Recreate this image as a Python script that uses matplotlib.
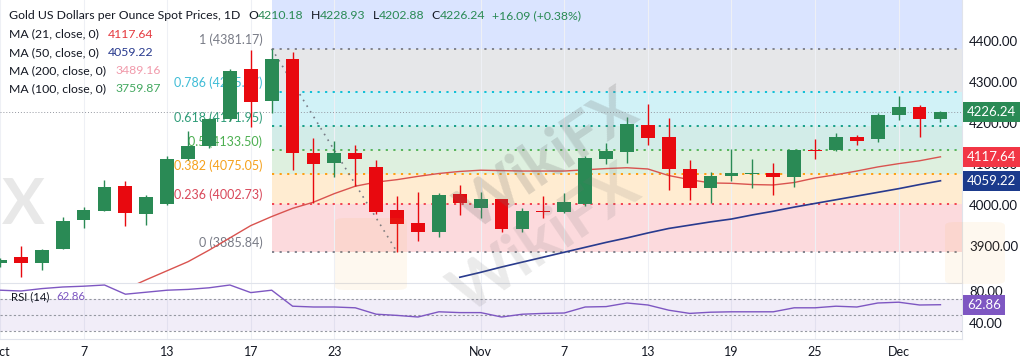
import matplotlib
matplotlib.use('Agg')
import matplotlib.pyplot as plt
import matplotlib.transforms as mtransforms
from matplotlib.patches import FancyBboxPatch

plt.rcParams['font.family'] = ['Lato', 'DejaVu Sans']

# daily candles, Oct 1 .. Dec 3
opens = [3858, 3873, 3859, 3893, 3963, 3985, 4046, 3978, 4002, 4112,
         4144, 4210, 4332, 4254, 4356, 4127, 4102, 4127, 4093, 3988,
         3956, 3934, 4027, 3993, 4015, 3941, 3985, 3983, 4002, 4112,
         4129, 4195, 4166, 4088, 4041, 4071, 4076, 4078, 4068, 4134,
         4134, 4166, 4161, 4220, 4239, 4210.18]
highs = [3870, 3900, 3893, 3971, 3995, 4061, 4059, 4024, 4119, 4180,
         4212, 4332, 4378, 4381.17, 4373, 4163, 4156, 4146, 4110, 4022,
         4032, 4029, 4049, 4032, 4015, 3993, 4022, 4029, 4120, 4151,
         4215, 4246, 4212, 4110, 4080, 4137, 4112, 4102, 4134, 4161,
         4175, 4171, 4224, 4266, 4244, 4228.93]
lows = [3850, 3824, 3841, 3893, 3944, 3985, 3949, 3951, 4000, 4110,
        4140, 4205, 4190, 4224, 4085, 4005, 4068, 4046, 3978, 3885.84,
        3912, 3922, 3976, 3968, 3934, 3934, 3968, 3980, 3998, 4100,
        4102, 4146, 4037, 4012, 4005, 4059, 4041, 4024, 4044, 4112,
        4132, 4146, 4154, 4207, 4166, 4202.88]
closes = [3866, 3859, 3890, 3961, 3988, 4044, 3980, 4020, 4112, 4144,
          4210, 4327, 4251, 4356, 4127, 4100, 4127, 4112, 3983, 3954,
          3934, 4024, 4005, 4015, 3941, 3985, 3982, 4007, 4115, 4132,
          4198, 4163, 4088, 4041, 4071, 4078, 4078, 4068, 4134, 4131,
          4166, 4156, 4220, 4239, 4210, 4226.24]

# moving averages (start index, values)
ma21_start = 6
ma21 = [3795, 3818, 3840, 3862, 3890, 3920, 3950, 3972, 3992, 4007,
        4028, 4046, 4056, 4062, 4070, 4077, 4082, 4085, 4084, 4083,
        4083, 4083, 4086, 4089, 4091, 4088, 4072, 4062, 4054, 4053,
        4050, 4049, 4055, 4066, 4074, 4083, 4093, 4101, 4108, 4117.64]
ma50_start = 22
ma50 = [3824, 3836, 3849, 3861, 3873, 3885, 3897, 3909, 3920, 3932,
        3943, 3951, 3959, 3966, 3976, 3985, 3995, 4004, 4013, 4022,
        4031, 4040, 4050, 4059.22]

rsi = [81, 80, 83, 85, 86, 87.5, 76, 78.5, 81, 82,
       84, 87.5, 78, 81, 61, 60, 60, 59, 51, 49.5,
       47.5, 54, 53, 53, 47.5, 51, 52, 52.5, 60, 60.5,
       65, 62.5, 56, 52, 53.5, 54, 54, 54, 59, 59,
       61, 60, 65, 66, 62.5, 62.86]

tick_idx = [0, 4, 8, 12, 16, 23, 27, 31, 35, 39, 43]
tick_lbl = ['Oct', '7', '13', '17', '23', 'Nov', '7', '13', '19', '25', 'Dec']

fib_hi_i, fib_lo_i = 13, 19
fib_levels = ['0', '0.236', '0.382', '0.5', '0.618', '0.786', '1']
fib_prices = [3885.84, 4002.73, 4075.05, 4133.50, 4191.95, 4275.17, 4381.17]
fib_colors = ['#787b86', '#f23645', '#ff9800', '#4caf50', '#089981', '#00bcd4', '#787b86']
fib_lbl_colors = ['#787b86', '#d9485a', '#f5a11c', '#4caf50', '#2e9c78', '#3fbcd6', '#787b86']

UP = '#2a8a55'
DN = '#e8090f'
TXT = '#131722'
W, H = 1024, 364
xmax = 46.03

fig = plt.figure(figsize=(W / 100, H / 100), dpi=100)
ax = fig.add_axes([0, 1 - 283 / H, 962 / W, 283 / H])
axr = fig.add_axes([0, 1 - 339 / H, 962 / W, 56 / H], sharex=ax)

# fibonacci retracement
for k in range(len(fib_prices) - 1):
    ax.fill_between([fib_hi_i, xmax], fib_prices[k], fib_prices[k + 1],
                    color=fib_colors[k + 1], alpha=0.18, lw=0, zorder=0)
ax.fill_between([fib_hi_i, xmax], fib_prices[-1], 4500, color='#2962ff',
                alpha=0.17, lw=0, zorder=0)
for l, p, c, lc in zip(fib_levels, fib_prices, fib_colors, fib_lbl_colors):
    ax.plot([fib_hi_i, xmax], [p, p], color=c, lw=1.3, ls=(0, (1.2, 3)), zorder=1)
    ax.annotate('%s (%.2f)' % (l, p), (12.55, p), xytext=(0, 2), textcoords='offset points',
                ha='right', va='bottom', color=lc, fontsize=9, zorder=1)
ax.plot([fib_hi_i, fib_lo_i], [fib_prices[-1], fib_prices[0]], color='#787b86', lw=1.2,
        ls=(0, (1, 3)), zorder=1)

# grid
for i in tick_idx:
    ax.axvline(i, color='#eef0f5', lw=0.8, zorder=0)
    axr.axvline(i, color='#eef0f5', lw=0.8, zorder=0)

# current price line
ax.axhline(closes[-1], color='#9598a1', lw=0.7, ls=(0, (1, 2)), zorder=1)

# moving averages
ax.plot(range(ma21_start, ma21_start + len(ma21)), ma21, color='#d9534f', lw=1, zorder=2)
ax.plot(range(ma50_start, ma50_start + len(ma50)), ma50, color='#283a8e', lw=1.2, zorder=2)

# candles
for i, (o, h, l, c) in enumerate(zip(opens, highs, lows, closes)):
    col = UP if c >= o else DN
    ax.vlines(i, l, h, color=col, lw=1, zorder=3)
    hgt = max(abs(c - o), 1.5)
    ax.bar(i, hgt, bottom=min(o, c), width=0.66, color=col, lw=0, zorder=4)

ax.set_xlim(0, xmax)
ax.set_ylim(3810, 4500)
ax.yaxis.tick_right()
ax.set_yticks([3900, 4000, 4100, 4200, 4300, 4400])
ax.set_yticklabels(['%.2f' % v for v in [3900, 4000, 4100, 4200, 4300, 4400]])
ax.tick_params(axis='y', length=0, pad=5, labelsize=9.5, labelcolor=TXT)
ax.tick_params(axis='x', length=0, labelbottom=False)
for s in ['top', 'left', 'bottom']:
    ax.spines[s].set_visible(False)
ax.spines['right'].set_color('#e0e3eb')

bt = mtransforms.blended_transform_factory(ax.transAxes, ax.transData)
for val, col in [(closes[-1], UP), (ma21[-1], '#f23645'), (ma50[-1], '#1b3a8c')]:
    ax.text(1.0 + 5 / 962, val, '%.2f' % val, transform=bt, color='white',
            fontsize=9.5, ha='left', va='center', clip_on=False, zorder=10,
            bbox=dict(boxstyle='square,pad=0.3', fc=col, ec='none'))

# RSI panel
axr.fill_between([0, xmax], 30, 70, color='#7e57c2', alpha=0.1, lw=0, zorder=0)
for lvl in [30, 50, 70]:
    axr.axhline(lvl, color='#9598a1', lw=0.8, ls=(0, (2, 2)), zorder=1)
axr.plot(range(len(rsi)), rsi, color='#7e57c2', lw=1, zorder=2)
axr.set_ylim(20, 90)
axr.yaxis.tick_right()
axr.set_yticks([40, 80])
axr.set_yticklabels(['40.00', '80.00'])
axr.tick_params(axis='y', length=0, pad=5, labelsize=9.5, labelcolor=TXT)
axr.set_xticks(tick_idx)
axr.set_xticklabels(tick_lbl)
axr.tick_params(axis='x', length=0, pad=5, labelsize=9, labelcolor=TXT)
axr.spines['left'].set_visible(False)
for s in ['top', 'right', 'bottom']:
    axr.spines[s].set_color('#e0e3eb')
bt2 = mtransforms.blended_transform_factory(axr.transAxes, axr.transData)
axr.text(1.0 + 5 / 962, rsi[-1], '%.2f' % rsi[-1], transform=bt2, color='white',
         fontsize=9.5, ha='left', va='center', clip_on=False, zorder=10,
         bbox=dict(boxstyle='square,pad=0.3', fc='#7e57c2', ec='none'))

# watermark
fig.text(548 / W, 1 - 160 / H, 'WikiFX', rotation=34, fontsize=44, fontweight='bold',
         color='#707070', alpha=0.22, ha='center', va='center', zorder=5)
fig.text(545 / W, 1 - 240 / H, 'WikiFX', rotation=34, fontsize=46, fontweight='bold',
         color='#707070', alpha=0.14, ha='center', va='center', zorder=5)
fig.text(45 / W, 1 - 205 / H, 'X', fontsize=46, fontweight='bold',
         color='#707070', alpha=0.16, ha='right', va='center', zorder=5)
for (x0, y0, w, h) in [(335, 218, 72, 72), (945, 222, 60, 62)]:
    fig.patches.append(FancyBboxPatch((x0 / W, 1 - (y0 + h) / H), w / W, h / H,
                                      boxstyle='round,pad=0,rounding_size=0.01',
                                      transform=fig.transFigure, fc='#f5a623',
                                      ec='none', alpha=0.07, zorder=6))

# legend texts
rend = fig.canvas.get_renderer()


def text_row(x, y, parts, size=8.8):
    for s, c, gap in parts:
        t = fig.text(x / W, 1 - y / H, s, color=c, fontsize=size, va='baseline', zorder=8)
        x = t.get_window_extent(rend).x1 + gap


text_row(9, 19, [('Gold US Dollars per Ounce Spot Prices, 1D', TXT, 8),
                 ('O', TXT, 0), ('4210.18', UP, 7),
                 ('H', TXT, 0), ('4228.93', UP, 7),
                 ('L', TXT, 0), ('4202.88', UP, 7),
                 ('C', TXT, 0), ('4226.24', UP, 7),
                 ('+16.09 (+0.38%)', UP, 0)])
ma_rows = [('MA (21, close, 0)', '4117.64', '#e5393f'),
           ('MA (50, close, 0)', '4059.22', '#283a8e'),
           ('MA (200, close, 0)', '3489.16', '#f19aab'),
           ('MA (100, close, 0)', '3759.87', '#43a860')]
for k, (name, val, col) in enumerate(ma_rows):
    text_row(9, 37.5 + 18.3 * k, [(name, TXT, 9), (val, col, 0)])
text_row(11, 300, [('RSI (14)', TXT, 7), ('62.86', '#7e57c2', 0)], size=8.2)

fig.savefig('out.png', dpi=100)
